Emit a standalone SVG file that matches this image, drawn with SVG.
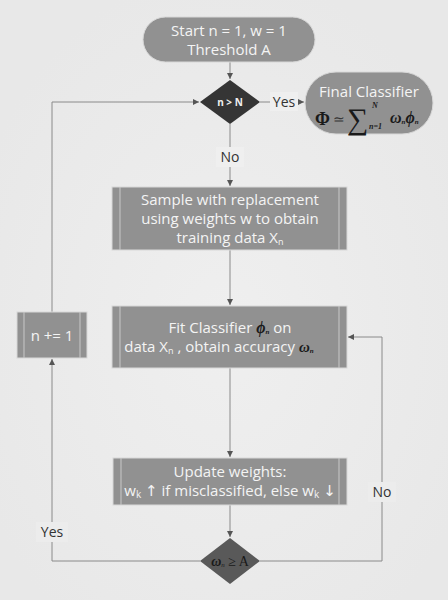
<svg xmlns="http://www.w3.org/2000/svg" width="448" height="600" viewBox="0 0 448 600">
<defs>
<radialGradient id="bg" cx="0.5" cy="0.55" r="0.6">
<stop offset="0" stop-color="#efefef"/>
<stop offset="1" stop-color="#e8e8e8"/>
</radialGradient>
<marker id="arr" markerWidth="8" markerHeight="8" refX="6" refY="3" orient="auto" markerUnits="userSpaceOnUse">
<path d="M0,0 L6,3 L0,6 Z" fill="#555"/>
</marker>
</defs>
<style>
.box{fill:#919191;stroke:#d8d8d8;stroke-width:1}
.inner{stroke:#c8c8c8;stroke-width:1}
.t{font-family:"Open Sans","Noto Sans","DejaVu Sans",sans-serif;font-size:15px;fill:#f4f4f4;text-anchor:middle}
.lbl{font-family:"Open Sans","Noto Sans","DejaVu Sans",sans-serif;font-size:14px;fill:#333;text-anchor:middle}
.m{font-family:"Liberation Serif","DejaVu Serif",serif;font-style:italic;font-weight:bold;fill:#1a1a1a}
.ln{fill:none;stroke:#8a8a8a;stroke-width:1}
</style>
<rect width="448" height="600" fill="url(#bg)"/>

<g id="connectors">
<line class="ln" x1="230" y1="62" x2="230" y2="79" marker-end="url(#arr)"/>
<line class="ln" x1="260" y1="102" x2="304" y2="102" marker-end="url(#arr)"/>
<line class="ln" x1="230" y1="124" x2="230" y2="186" marker-end="url(#arr)"/>
<line class="ln" x1="230" y1="250" x2="230" y2="305" marker-end="url(#arr)"/>
<line class="ln" x1="230" y1="368" x2="230" y2="457" marker-end="url(#arr)"/>
<line class="ln" x1="230" y1="505" x2="230" y2="537" marker-end="url(#arr)"/>
<polyline class="ln" points="200,561 52,561 52,359" marker-end="url(#arr)"/>
<polyline class="ln" points="52,312 52,102 199,102" marker-end="url(#arr)"/>
<polyline class="ln" points="260,561 382,561 382,337 348,337" marker-end="url(#arr)"/>
<rect x="270" y="92" width="28" height="19" fill="#efefef"/>
<text class="lbl" x="284" y="107">Yes</text>
<rect x="216" y="147" width="28" height="20" fill="#efefef"/>
<text class="lbl" x="230" y="162">No</text>
<rect x="36" y="522" width="32" height="20" fill="#ececec"/>
<text class="lbl" x="52" y="537">Yes</text>
<rect x="368" y="482" width="28" height="20" fill="#ececec"/>
<text class="lbl" x="382" y="497">No</text>
</g>

<g id="start">
<rect class="box" x="143" y="17" width="172" height="45" rx="22.5" fill="#8f8f8f"/>
<text class="t" x="229" y="36">Start n = 1, w = 1</text>
<text class="t" x="229" y="55">Threshold A</text>
</g>

<g id="decision-n">
<polygon points="230,80 260,102 230,124 200,102" fill="#353535"/>
<text x="230" y="106" font-family="'Open Sans','Noto Sans',sans-serif" font-size="10" font-weight="bold" fill="#f0f0f0" text-anchor="middle">n &gt; N</text>
</g>

<g id="final">
<rect class="box" x="305" y="72" width="128" height="62" rx="31" fill="#8f8f8f"/>
<text class="t" x="369" y="97">Final Classifier</text>
<text x="315" y="125" font-family="'Liberation Serif',serif" font-size="18" font-weight="bold" fill="#1a1a1a">Φ</text>
<text x="333" y="124" font-family="'Liberation Serif',serif" font-size="14" fill="#333">≃</text>
<text x="347" y="129" font-family="'Liberation Serif',serif" font-size="30" fill="#1a1a1a">∑</text>
<text x="372" y="108" class="m" font-size="8">N</text>
<text x="369" y="129" class="m" font-size="8" font-weight="normal">n=1</text>
<text x="390" y="123" class="m" font-size="16">ω<tspan font-size="7" dy="1">n</tspan><tspan dy="-1" font-size="16">ϕ</tspan><tspan font-size="7" dy="1">n</tspan></text>
</g>

<g id="sample">
<rect class="box" x="112" y="187" width="235" height="63"/>
<line class="inner" x1="120" y1="187" x2="120" y2="250"/>
<line class="inner" x1="339" y1="187" x2="339" y2="250"/>
<text class="t" x="230" y="205">Sample with replacement</text>
<text class="t" x="230" y="224">using weights w to obtain</text>
<text class="t" x="230" y="243">training data X<tspan font-size="9" dy="2">n</tspan></text>
</g>

<g id="fit">
<rect class="box" x="112" y="306" width="235" height="62"/>
<line class="inner" x1="120" y1="306" x2="120" y2="368"/>
<line class="inner" x1="339" y1="306" x2="339" y2="368"/>
<text class="t" x="230" y="333">Fit Classifier <tspan class="m" font-size="16">ϕ</tspan><tspan class="m" font-size="7" dy="1">n</tspan><tspan dy="-1"> on</tspan></text>
<text class="t" x="219" y="352">data X<tspan font-size="9" dy="2">n</tspan><tspan dy="-2"> , obtain accuracy </tspan><tspan class="m" font-size="15">ω</tspan><tspan class="m" font-size="7" dy="1">n</tspan></text>
</g>

<g id="update">
<rect class="box" x="113" y="458" width="234" height="47" fill="#989898"/>
<line class="inner" x1="121" y1="458" x2="121" y2="505"/>
<line class="inner" x1="339" y1="458" x2="339" y2="505"/>
<text class="t" x="230" y="477">Update weights:</text>
<text class="t" x="230" y="496">w<tspan font-size="10" dy="2">k</tspan><tspan dy="-2"> ↑ if misclassified, else w</tspan><tspan font-size="10" dy="2">k</tspan><tspan dy="-2"> ↓</tspan></text>
</g>

<g id="decision-acc">
<polygon points="230,538 260,561 230,584 200,561" fill="#595959"/>
<text x="230" y="566" font-family="'Liberation Serif',serif" font-size="14" fill="#1a1a1a" text-anchor="middle"><tspan font-style="italic" font-weight="bold">ω</tspan><tspan font-size="7" font-style="italic" dy="1">n</tspan><tspan dy="-1"> ≥ A</tspan></text>
</g>

<g id="increment">
<rect class="box" x="17" y="312" width="70" height="46"/>
<line class="inner" x1="24" y1="312" x2="24" y2="358"/>
<line class="inner" x1="80" y1="312" x2="80" y2="358"/>
<text class="t" x="52" y="341">n += 1</text>
</g>
</svg>
